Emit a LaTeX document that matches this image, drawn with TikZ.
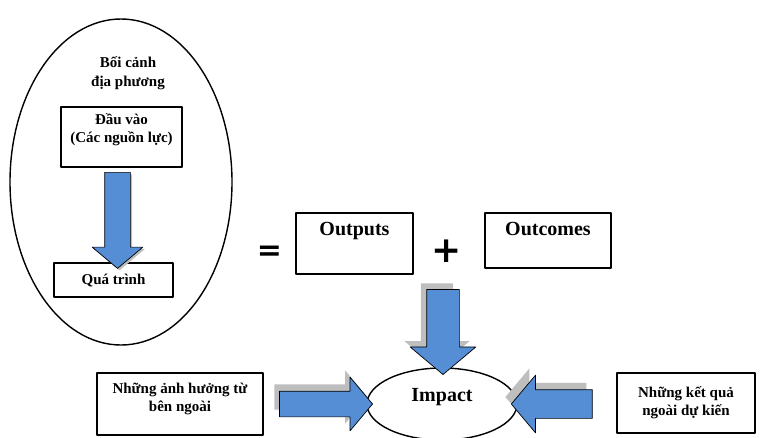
\documentclass[tikz,border=0pt]{standalone}
\usepackage{fontspec}
\setmainfont{Liberation Serif}
\newfontfamily\symfont{DejaVu Sans}
\usetikzlibrary{shapes.geometric,shapes.arrows,positioning,calc}
\definecolor{arrowblue}{RGB}{85,142,213}
\definecolor{shadowgray}{RGB}{190,190,190}
\begin{document}
\begin{tikzpicture}[x=1pt,y=-1pt, line join=round,
	txt/.style={font=\bfseries\fontsize{15}{18}\selectfont, align=center},
	bigtxt/.style={font=\bfseries\fontsize{20}{24}\selectfont},
	box/.style={draw, line width=1.8pt, inner sep=0pt, align=center},
	blockarrow/.style={single arrow, fill=arrowblue, draw=black, line width=0.7pt, inner sep=0pt, single arrow tip angle=100},
	arrowshadow/.style={single arrow, fill=shadowgray, inner sep=0pt, single arrow tip angle=100}]
	\useasboundingbox (0,0) rectangle (768,437);
	% left part
	\node[draw, ellipse, line width=1.4pt, minimum width=222pt, minimum height=326pt] (context) at (121,182) {};
	\node[txt, font=\bfseries\fontsize{15}{19}\selectfont] (contextlabel) at (128,73) {Bối cảnh\\địa phương};
	\node[box, minimum width=121pt, minimum height=60pt] (inputs) at (121.5,137) {};
	\node[txt, inner sep=0pt, below=7pt of inputs.north] (inputslabel) {Đầu vào\\(Các nguồn lực)};
	\node[box, txt, minimum width=119pt, minimum height=34pt] (process) at (113.5,280) {Quá trình};
	\coordinate (a1) at ($(inputs.south)!0.5!(process.north)$);
	\node[arrowshadow, minimum height=96pt, inner sep=12.5pt, single arrow head extend=12.5pt, rotate=-90] (a1shadow) at ($(a1)+(2,2)$) {};
	\node[blockarrow, minimum height=96pt, inner sep=12.5pt, single arrow head extend=12.5pt, rotate=-90] (a1arrow) at (a1) {};
	% results
	\node[font=\symfont\bfseries\fontsize{30}{30}\selectfont] (equals) at (269.5,253) {=};
	\node[box, bigtxt, minimum width=117pt, text height=23pt, text depth=38pt] (outputs) at (354.5,212) [anchor=north] {Outputs};
	\node[font=\symfont\bfseries\fontsize{36}{36}\selectfont] (plus) at (447,251) {+};
	\node[box, bigtxt, minimum width=126pt, text height=23pt, text depth=32pt] (outcomes) at (548,212) [anchor=north] {Outcomes};
	% impact
	\node[draw, ellipse, line width=1.4pt, minimum width=150pt, minimum height=72pt, inner sep=0pt, bigtxt, text height=8pt, text depth=14pt] (impact) at (442,404) {Impact};
	\node[box, minimum width=166pt, minimum height=62pt] (external) at (180,404) {};
	\node[txt, inner sep=0pt, below=11pt of external.north] (externallabel) {Những ảnh hưởng từ\\bên ngoài};
	\node[box, txt, minimum width=138pt, minimum height=60pt] (unexpected) at (686,403) {Những kết quả\\ngoài dự kiến};
	\coordinate (a2start) at (444,283);
	\coordinate (a3start) at (275,404);
	\coordinate (a4start) at (598,404);
	\coordinate (a2) at ($(a2start)!0.5!(impact.north)$);
	\coordinate (a3) at ($(a3start)!0.5!(impact.west)$);
	\coordinate (a4) at ($(a4start)!0.5!(impact.east)$);
	\node[arrowshadow, minimum height=85pt, inner sep=16pt, single arrow head extend=16.5pt, rotate=-90] (a2shadow) at ($(a2)+(-6,-6)$) {};
	\node[blockarrow, minimum height=85pt, inner sep=16pt, single arrow head extend=16.5pt, rotate=-90] (a2arrow) at (a2) {};
	\node[arrowshadow, minimum height=93pt, inner sep=12.5pt, single arrow head extend=14pt] (a3shadow) at ($(a3)+(-5,-7)$) {};
	\node[blockarrow, minimum height=93pt, inner sep=12.5pt, single arrow head extend=14pt] (a3arrow) at (a3) {};
	\node[arrowshadow, minimum height=81pt, inner sep=14pt, single arrow head extend=14.5pt, rotate=180] (a4shadow) at ($(a4)+(-6,-7)$) {};
	\node[blockarrow, minimum height=81pt, inner sep=14pt, single arrow head extend=14.5pt, rotate=180] (a4arrow) at (a4) {};
\end{tikzpicture}
\end{document}
